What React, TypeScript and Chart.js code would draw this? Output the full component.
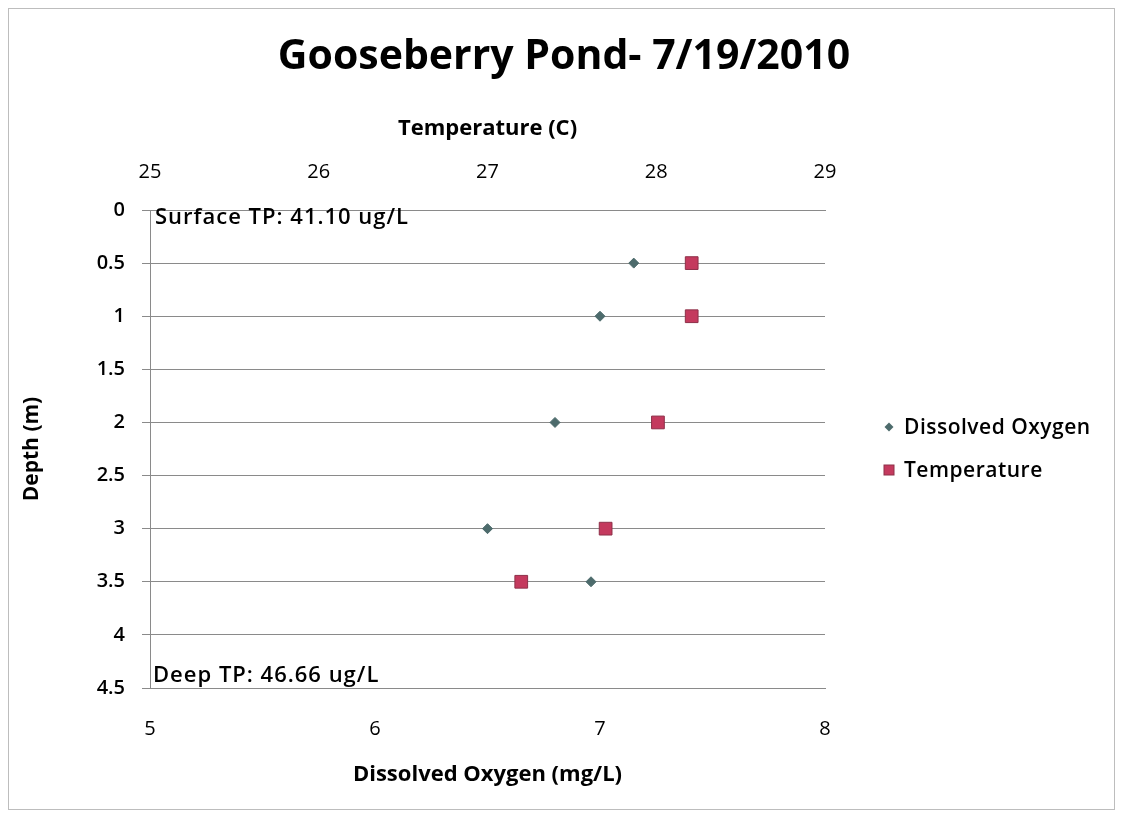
import React, { useEffect, useRef } from "react";
import { Chart, registerables } from "chart.js";

Chart.register(...registerables);

const depths = [0.5, 1, 2, 3, 3.5];
const dissolvedOxygen = [7.15, 7.0, 6.8, 6.5, 6.96];
const temperature = [28.21, 28.21, 28.01, 27.7, 27.2];
const seriesLabels = ["Dissolved Oxygen", "Temperature"];
const chartTitle = "Gooseberry Pond- 7/19/2010";
const notes = ["Surface TP: 41.10 ug/L", "Deep TP: 46.66 ug/L"];

const FONT = "'Open Sans', Lato, sans-serif";

export default function App() {
  const ref = useRef<HTMLCanvasElement | null>(null);
  useEffect(() => {
    if (!ref.current) return;
    const extras = {
      id: "extras",
      afterDraw(chart: any) {
        const ctx = chart.ctx;
        const a = chart.chartArea;
        ctx.save();
        // title
        ctx.fillStyle = "#000";
        ctx.font = `bold 41px ${FONT}`;
        ctx.textAlign = "center";
        ctx.textBaseline = "middle";
        ctx.fillText(chartTitle, 555, 48);
        // notes
        ctx.font = `600 22px ${FONT}`;
        ctx.textAlign = "left";
        (ctx as any).letterSpacing = "1px";
        ctx.fillText(notes[0], a.left + 5, a.top + 8);
        ctx.fillText(notes[1], a.left + 3, a.bottom - 12);
        // legend
        const items = chart.data.datasets;
        const lx = 880;
        const ly = [418, 461];
        (ctx as any).letterSpacing = "0.5px";
        items.forEach((ds: any, i: number) => {
          ctx.fillStyle = ds.backgroundColor;
          ctx.strokeStyle = ds.borderColor;
          ctx.lineWidth = 1;
          if (ds.pointStyle === "rectRot") {
            ctx.beginPath();
            ctx.moveTo(lx, ly[i] - 4.5);
            ctx.lineTo(lx + 4.5, ly[i]);
            ctx.lineTo(lx, ly[i] + 4.5);
            ctx.lineTo(lx - 4.5, ly[i]);
            ctx.closePath();
            ctx.fill();
          } else {
            ctx.fillRect(lx - 5, ly[i] - 5, 10, 10);
            ctx.strokeRect(lx - 5, ly[i] - 5, 10, 10);
          }
          ctx.fillStyle = "#000";
          ctx.font = `600 21px ${FONT}`;
          ctx.fillText(ds.label, lx + 15, ly[i] + 1);
        });
        ctx.restore();
      },
    };
    const plain = (v: any) => String(v);
    const chart = new Chart(ref.current, {
      type: "scatter",
      data: {
        datasets: [
          {
            label: seriesLabels[0],
            data: depths.map((d, i) => ({ x: dissolvedOxygen[i], y: d })),
            xAxisID: "x",
            yAxisID: "y",
            pointStyle: "rectRot",
            pointRadius: 5,
            backgroundColor: "#4d6b6c",
            borderColor: "#4d6b6c",
            borderWidth: 1,
          },
          {
            label: seriesLabels[1],
            data: depths.map((d, i) => ({ x: temperature[i], y: d })),
            xAxisID: "x2",
            yAxisID: "y",
            pointStyle: "rect",
            pointRadius: 9,
            backgroundColor: "#c43a5e",
            borderColor: "#8e3049",
            borderWidth: 1,
          },
        ],
      },
      options: {
        animation: false,
        responsive: false,
        layout: { padding: { left: 0, right: 289, top: 69, bottom: 0 } },
        plugins: {
          legend: { display: false },
          tooltip: { enabled: false },
          title: { display: false },
        },
        scales: {
          x: {
            type: "linear",
            position: "bottom",
            min: 5,
            max: 8,
            ticks: { stepSize: 1, color: "#000", padding: 21, callback: plain, font: { family: FONT, size: 20 } },
            grid: { display: false },
            border: { display: true, color: "#8a8a8a" },
            title: {
              display: true,
              text: "Dissolved Oxygen (mg/L)",
              color: "#000",
              font: { family: FONT, size: 22, weight: "bold", lineHeight: 1.2 },
              padding: { top: 0, bottom: 21 },
            },
            afterFit: (s: any) => { s.height = 121; },
          },
          x2: {
            type: "linear",
            position: "top",
            min: 25,
            max: 29,
            ticks: { stepSize: 1, color: "#000", padding: 18, callback: plain, font: { family: FONT, size: 20 } },
            grid: { display: false },
            border: { display: true, color: "#8a8a8a" },
            title: {
              display: true,
              text: "Temperature (C)",
              color: "#000",
              font: { family: FONT, size: 22, weight: "bold", lineHeight: 1.2 },
              padding: { top: 38, bottom: 0 },
            },
            afterFit: (s: any) => { s.height = 132; },
          },
          y: {
            type: "linear",
            reverse: true,
            min: 0,
            max: 4.5,
            ticks: { stepSize: 0.5, color: "#000", padding: 17, callback: plain, font: { family: FONT, size: 20, weight: "600" } },
            grid: { color: "#8a8a8a", tickLength: 8, drawTicks: true },
            border: { display: true, color: "#8a8a8a" },
            title: {
              display: true,
              text: "Depth (m)",
              color: "#000",
              font: { family: FONT, size: 21, weight: "bold", lineHeight: 1.2 },
              padding: { top: 10, bottom: 0 },
            },
            afterFit: (s: any) => { s.width = 141; },
          },
        },
      },
      plugins: [extras],
    });
    return () => chart.destroy();
  }, []);
  return (
    <div style={{ width: 1105, height: 800, border: "1px solid #bdbdbd", background: "#fff" }}>
      <canvas ref={ref} width={1105} height={800} style={{ display: "block" }} />
    </div>
  );
}
